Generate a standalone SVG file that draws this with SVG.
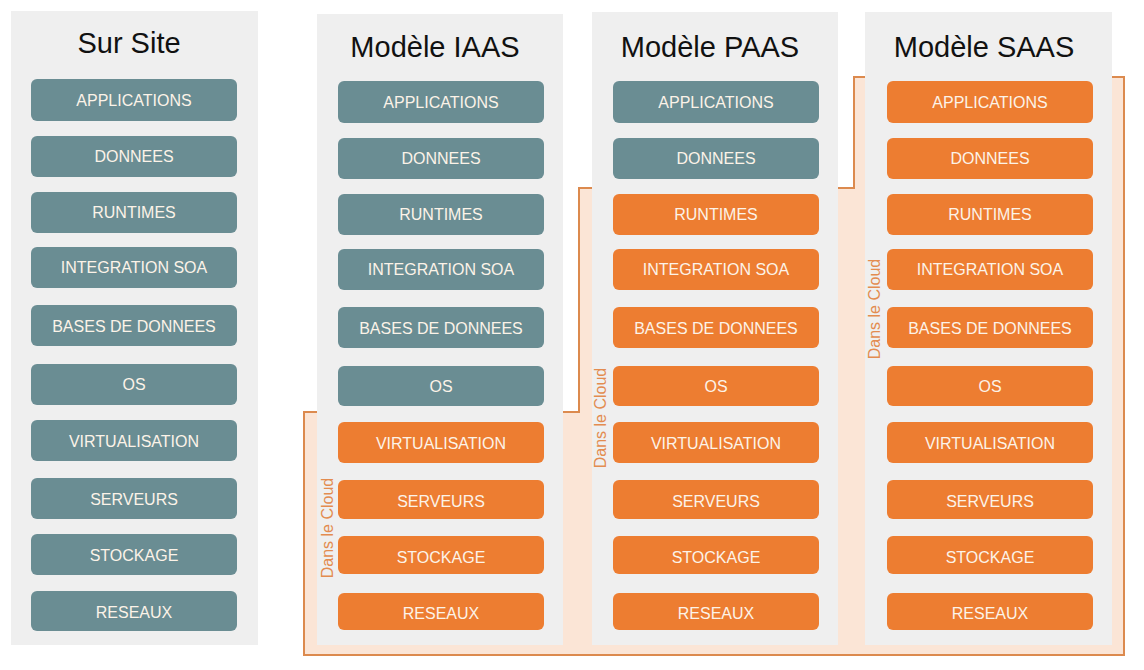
<svg xmlns="http://www.w3.org/2000/svg" width="1144" height="670" viewBox="0 0 1144 670">
<style>
.panel{fill:#EFEFEF}
.t{fill:#6A8D93}
.o{fill:#ED7D31}
.title{font-family:"Liberation Sans",Arial,sans-serif;font-size:29px;fill:#111;text-anchor:middle}
.lbl{font-family:"Liberation Sans",Arial,sans-serif;font-size:16px;fill:#FCF3E8;text-anchor:middle;dominant-baseline:central}
.cloud{font-family:"Liberation Sans",Arial,sans-serif;font-size:16px;fill:#E38C50;text-anchor:middle}
</style>
<rect width="1144" height="670" fill="#FFFFFF"/>
<g id="cloud-zone">
<path d="M304,412 H579 V188 H854 V77 H1124 V655 H304 Z" fill="#FBE5D6" stroke="#DC8A4E" stroke-width="2"/>
</g>
<g id="sur-site">
<rect class="panel" x="11" y="11" width="247" height="634"/>
<text class="title" x="129" y="53">Sur Site</text>
<rect class="t" x="31" y="79" width="206" height="42" rx="6"/><text class="lbl" x="134" y="100">APPLICATIONS</text>
<rect class="t" x="31" y="136" width="206" height="41" rx="6"/><text class="lbl" x="134" y="156">DONNEES</text>
<rect class="t" x="31" y="192" width="206" height="41" rx="6"/><text class="lbl" x="134" y="212">RUNTIMES</text>
<rect class="t" x="31" y="247" width="206" height="41" rx="6"/><text class="lbl" x="134" y="267">INTEGRATION SOA</text>
<rect class="t" x="31" y="305" width="206" height="41" rx="6"/><text class="lbl" x="134" y="326">BASES DE DONNEES</text>
<rect class="t" x="31" y="364" width="206" height="41" rx="6"/><text class="lbl" x="134" y="384">OS</text>
<rect class="t" x="31" y="420" width="206" height="41" rx="6"/><text class="lbl" x="134" y="441">VIRTUALISATION</text>
<rect class="t" x="31" y="478" width="206" height="41" rx="6"/><text class="lbl" x="134" y="499">SERVEURS</text>
<rect class="t" x="31" y="534" width="206" height="41" rx="6"/><text class="lbl" x="134" y="555">STOCKAGE</text>
<rect class="t" x="31" y="591" width="206" height="40" rx="6"/><text class="lbl" x="134" y="612">RESEAUX</text>
</g>
<g id="iaas">
<rect class="panel" x="317" y="14" width="246" height="631"/>
<text class="title" x="435" y="57">Modèle IAAS</text>
<rect class="t" x="338" y="81" width="206" height="42" rx="6"/><text class="lbl" x="441" y="102">APPLICATIONS</text>
<rect class="t" x="338" y="138" width="206" height="41" rx="6"/><text class="lbl" x="441" y="158">DONNEES</text>
<rect class="t" x="338" y="194" width="206" height="41" rx="6"/><text class="lbl" x="441" y="214">RUNTIMES</text>
<rect class="t" x="338" y="249" width="206" height="41" rx="6"/><text class="lbl" x="441" y="269">INTEGRATION SOA</text>
<rect class="t" x="338" y="307" width="206" height="41" rx="6"/><text class="lbl" x="441" y="328">BASES DE DONNEES</text>
<rect class="t" x="338" y="366" width="206" height="40" rx="6"/><text class="lbl" x="441" y="386">OS</text>
<rect class="o" x="338" y="422" width="206" height="41" rx="6"/><text class="lbl" x="441" y="443">VIRTUALISATION</text>
<rect class="o" x="338" y="480" width="206" height="39" rx="6"/><text class="lbl" x="441" y="501">SERVEURS</text>
<rect class="o" x="338" y="536" width="206" height="38" rx="6"/><text class="lbl" x="441" y="557">STOCKAGE</text>
<rect class="o" x="338" y="593" width="206" height="37" rx="6"/><text class="lbl" x="441" y="613">RESEAUX</text>
<text class="cloud" transform="translate(333,528) rotate(-90)">Dans le Cloud</text>
</g>
<g id="paas">
<rect class="panel" x="592" y="12" width="246" height="633"/>
<text class="title" x="710" y="57">Modèle PAAS</text>
<rect class="t" x="613" y="81" width="206" height="42" rx="6"/><text class="lbl" x="716" y="102">APPLICATIONS</text>
<rect class="t" x="613" y="138" width="206" height="41" rx="6"/><text class="lbl" x="716" y="158">DONNEES</text>
<rect class="o" x="613" y="194" width="206" height="41" rx="6"/><text class="lbl" x="716" y="214">RUNTIMES</text>
<rect class="o" x="613" y="249" width="206" height="41" rx="6"/><text class="lbl" x="716" y="269">INTEGRATION SOA</text>
<rect class="o" x="613" y="307" width="206" height="41" rx="6"/><text class="lbl" x="716" y="328">BASES DE DONNEES</text>
<rect class="o" x="613" y="366" width="206" height="40" rx="6"/><text class="lbl" x="716" y="386">OS</text>
<rect class="o" x="613" y="422" width="206" height="41" rx="6"/><text class="lbl" x="716" y="443">VIRTUALISATION</text>
<rect class="o" x="613" y="480" width="206" height="39" rx="6"/><text class="lbl" x="716" y="501">SERVEURS</text>
<rect class="o" x="613" y="536" width="206" height="38" rx="6"/><text class="lbl" x="716" y="557">STOCKAGE</text>
<rect class="o" x="613" y="593" width="206" height="37" rx="6"/><text class="lbl" x="716" y="613">RESEAUX</text>
<text class="cloud" transform="translate(606,418) rotate(-90)">Dans le Cloud</text>
</g>
<g id="saas">
<rect class="panel" x="865" y="12" width="247" height="633"/>
<text class="title" x="984" y="57">Modèle SAAS</text>
<rect class="o" x="887" y="81" width="206" height="42" rx="6"/><text class="lbl" x="990" y="102">APPLICATIONS</text>
<rect class="o" x="887" y="138" width="206" height="41" rx="6"/><text class="lbl" x="990" y="158">DONNEES</text>
<rect class="o" x="887" y="194" width="206" height="41" rx="6"/><text class="lbl" x="990" y="214">RUNTIMES</text>
<rect class="o" x="887" y="249" width="206" height="41" rx="6"/><text class="lbl" x="990" y="269">INTEGRATION SOA</text>
<rect class="o" x="887" y="307" width="206" height="41" rx="6"/><text class="lbl" x="990" y="328">BASES DE DONNEES</text>
<rect class="o" x="887" y="366" width="206" height="40" rx="6"/><text class="lbl" x="990" y="386">OS</text>
<rect class="o" x="887" y="422" width="206" height="41" rx="6"/><text class="lbl" x="990" y="443">VIRTUALISATION</text>
<rect class="o" x="887" y="480" width="206" height="39" rx="6"/><text class="lbl" x="990" y="501">SERVEURS</text>
<rect class="o" x="887" y="536" width="206" height="38" rx="6"/><text class="lbl" x="990" y="557">STOCKAGE</text>
<rect class="o" x="887" y="593" width="206" height="37" rx="6"/><text class="lbl" x="990" y="613">RESEAUX</text>
<text class="cloud" transform="translate(880,309) rotate(-90)">Dans le Cloud</text>
</g>
</svg>
